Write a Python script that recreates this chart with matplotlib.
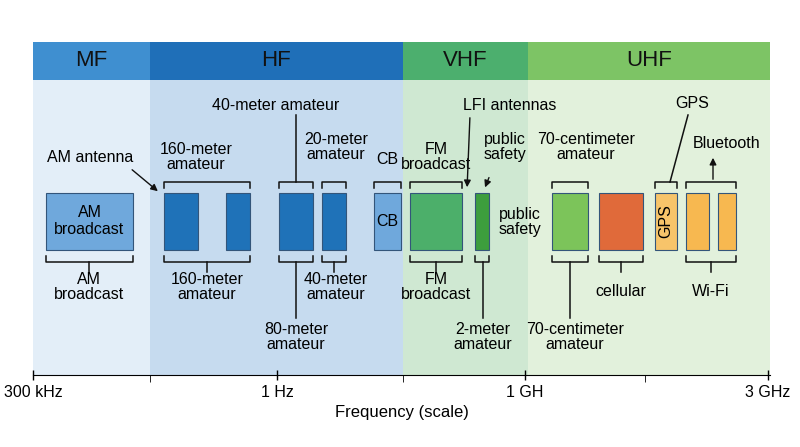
import matplotlib
matplotlib.use("Agg")
import matplotlib.pyplot as plt
from matplotlib.patches import Rectangle

plt.rcParams['font.family'] = ['Liberation Sans', 'DejaVu Sans']

W, H = 800, 447
X0, X1, YT, YB = 33, 770, 42, 375

band_names = ["MF", "HF", "VHF", "UHF"]
band_edges = [33, 150, 403, 528, 770]
band_head = ["#3f8fd0", "#1f6fb8", "#4caf6e", "#7dc465"]
band_bg = ["#e3eef8", "#c6dbef", "#cfe8d2", "#e2f1dc"]

# blocks: label, x0, x1, color
blocks = [
    ("AM\nbroadcast", 46, 133, "#6fa8dc"),
    ("", 164, 198, "#1f72b8"), ("", 226, 250, "#1f72b8"),
    ("", 279, 313, "#1f72b8"), ("", 322, 346, "#1f72b8"),
    ("CB", 374, 401, "#6fa8dc"),
    ("", 410, 462, "#4caf6a"),
    ("", 475, 489, "#3d9e3d"),
    ("", 552, 588, "#7cc45a"),
    ("", 599, 643, "#e06a3a"),
    ("GPS", 655, 677, "#f7c46a"),
    ("", 686, 709, "#f7b850"), ("", 718, 736, "#f7b850"),
]
top_brackets = [(164, 250, "160-meter\namateur", 196, 157), (279, 313, "", 0, 0),
                (322, 346, "20-meter\namateur", 336, 147), (374, 401, "CB", 387, 160),
                (410, 462, "FM\nbroadcast", 436, 157), (552, 588, "70-centimeter\namateur", 586, 147),
                (655, 677, "", 0, 0), (686, 736, "", 0, 0)]
bot_brackets = [(46, 133, "AM\nbroadcast", 89, 287), (164, 250, "160-meter\namateur", 207, 287),
                (279, 313, "", 0, 0), (322, 346, "40-meter\namateur", 336, 287),
                (410, 462, "FM\nbroadcast", 436, 287), (475, 489, "", 0, 0),
                (552, 588, "", 0, 0), (599, 643, "cellular", 621, 291), (686, 736, "Wi-Fi", 711, 291)]

fig = plt.figure(figsize=(8, 4.47), dpi=100)
ax = fig.add_axes([X0 / W, 1 - YB / H, (X1 - X0) / W, (YB - YT) / H])
ax.set_xlim(X0, X1)
ax.set_ylim(YB, YT)
for i, n in enumerate(band_names):
    a, b = band_edges[i], band_edges[i + 1]
    ax.add_patch(Rectangle((a, YT), b - a, 38, color=band_head[i], lw=0))
    ax.add_patch(Rectangle((a, 80), b - a, YB - 80, color=band_bg[i], lw=0))
    ax.text((a + b) / 2, 61, n, ha="center", va="center", fontsize=16, color="#111")

fs = 11.5
for lab, a, b, c in blocks:
    ax.add_patch(Rectangle((a, 193), b - a, 57, facecolor=c, edgecolor="#33557a", lw=0.8))
    if lab:
        ax.text((a + b) / 2, 221, lab, ha="center", va="center", fontsize=fs,
                rotation=90 if lab == "GPS" else 0)

def bracket(a, b, y, d):
    ax.plot([a, a, b, b], [y + d, y, y, y + d], color="#111", lw=1.1)

for a, b, lab, tx, ty in top_brackets:
    bracket(a, b, 182, 6)
    if lab:
        ax.text(tx, ty, lab, ha="center", va="center", fontsize=fs, linespacing=0.95)
for a, b, lab, tx, ty in bot_brackets:
    bracket(a, b, 262, -6)
    if lab:
        ax.plot([(a + b) / 2] * 2, [262, 272], color="#111", lw=1.1)
        ax.text(tx, ty, lab, ha="center", va="center", fontsize=fs, linespacing=0.95)

ax.text(276, 105, "40-meter amateur", ha="center", va="center", fontsize=fs)
ax.plot([296, 296], [115, 182], color="#111", lw=1.1)
ax.plot([296, 296], [262, 318], color="#111", lw=1.1)
ax.text(296, 337, "80-meter\namateur", ha="center", va="center", fontsize=fs, linespacing=0.95)
ax.text(483, 337, "2-meter\namateur", ha="center", va="center", fontsize=fs, linespacing=0.95)
ax.plot([483, 483], [262, 318], color="#111", lw=1.1)
ax.text(575, 337, "70-centimeter\namateur", ha="center", va="center", fontsize=fs, linespacing=0.95)
ax.plot([570, 570], [262, 318], color="#111", lw=1.1)
ax.text(510, 105, "LFI antennas", ha="center", va="center", fontsize=fs)
ax.annotate("", xy=(467, 190), xytext=(470, 115), arrowprops=dict(arrowstyle="-|>", color="#111", lw=1))
ax.annotate("", xy=(484, 190), xytext=(490, 175), arrowprops=dict(arrowstyle="-|>", color="#111", lw=1))
ax.text(505, 147, "public\nsafety", ha="center", va="center", fontsize=fs, linespacing=0.95)
ax.text(520, 222, "public\nsafety", ha="center", va="center", fontsize=fs, linespacing=0.95)
ax.text(90, 157, "AM antenna", ha="center", va="center", fontsize=fs)
ax.annotate("", xy=(160, 193), xytext=(130, 168), arrowprops=dict(arrowstyle="-|>", color="#111", lw=1))
ax.text(692, 104, "GPS", ha="center", va="center", fontsize=fs)
ax.plot([688, 670], [115, 182], color="#111", lw=1.1)
ax.text(727, 143, "Bluetooth", ha="center", va="center", fontsize=fs)
ax.annotate("", xy=(713, 155), xytext=(713, 182), arrowprops=dict(arrowstyle="-|>", color="#111", lw=1))

tick_pos = [33, 277, 525, 768]
tick_labels = ["300 kHz", "1 Hz", "1 GH", "3 GHz"]
ax.set_xticks(tick_pos)
ax.set_xticklabels(tick_labels, fontsize=11.5)
ax.set_xticks([150, 403, 645], minor=True)
ax.tick_params(axis="x", length=7, width=1, direction="inout")
ax.tick_params(axis="x", which="minor", length=5)
ax.set_yticks([])
for s in ["top", "left", "right"]:
    ax.spines[s].set_visible(False)
ax.set_xlabel("Frequency (scale)", fontsize=12)
fig.savefig("out.png", dpi=100)
